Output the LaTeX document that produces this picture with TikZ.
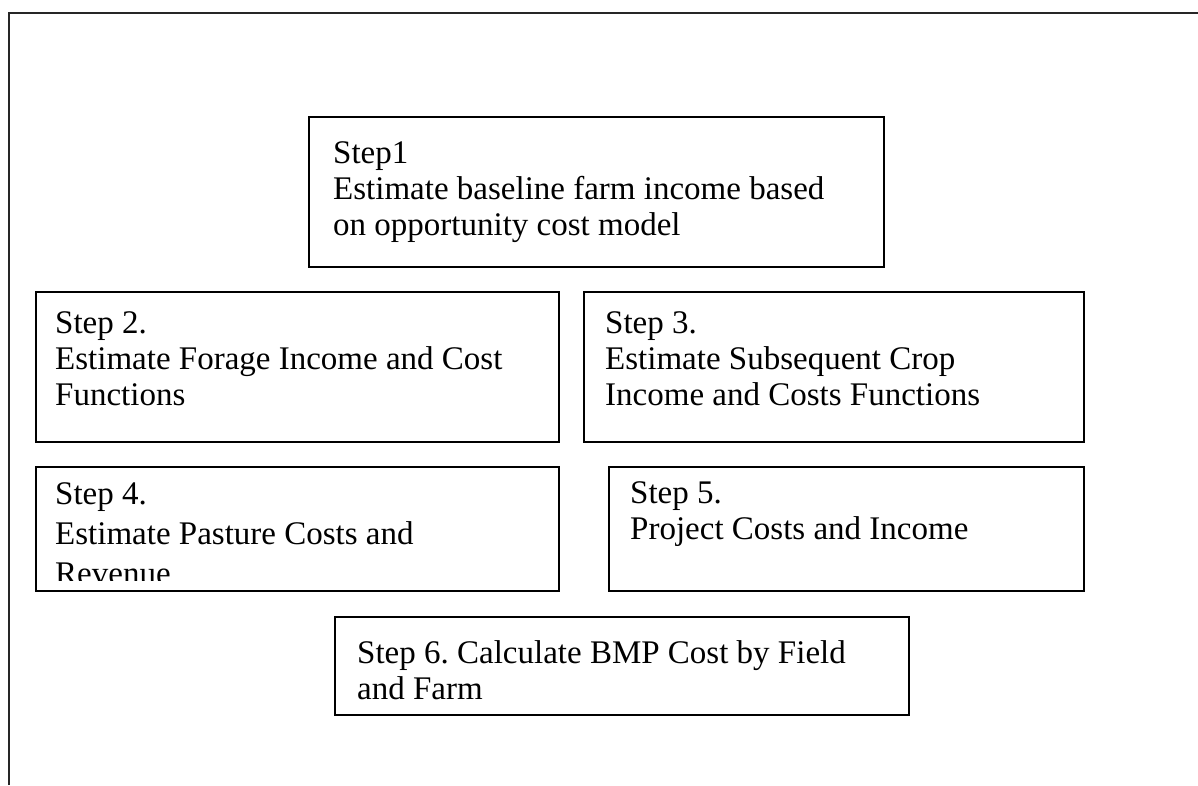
\documentclass[tikz,border=0pt]{standalone}
\usepackage{fontspec}
\setmainfont{Liberation Serif}
\frenchspacing
\tikzset{
  stepbox/.style={draw, line width=2pt, rectangle, inner sep=0pt, anchor=north west},
  steptext/.style={anchor=north west, inner sep=0pt, align=left, font=\fontsize{33}{36}\selectfont}
}
\begin{document}
\begin{tikzpicture}[x=1pt, y=-1pt]
\useasboundingbox (0,0) rectangle (1198,785);
% Frame
\draw[line width=2pt, black!85] (9,785) -- (9,13) -- (1198,13);

% Boxes
\node[stepbox, minimum width=575pt, minimum height=150pt] (box1) at (308,116) {};
\node[stepbox, minimum width=523pt, minimum height=150pt] (box2) at (35,291) {};
\node[stepbox, minimum width=500pt, minimum height=150pt] (box3) at (583,291) {};
\node[stepbox, minimum width=523pt, minimum height=124pt] (box4) at (35,466) {};
\node[stepbox, minimum width=475pt, minimum height=124pt] (box5) at (608,466) {};
\node[stepbox, minimum width=574pt, minimum height=98pt] (box6) at (334,616) {};

% Texts
\node[steptext] (text1) at (333,141) {Step1\\Estimate baseline farm income based\\on opportunity cost model};
\node[steptext] (text2) at (55,311) {Step 2.\\Estimate Forage Income and Cost\\Functions};
\node[steptext] (text3) at (605,311) {Step 3.\\Estimate Subsequent Crop\\Income and Costs Functions};
% Step 4 runs past its box
\begin{scope}
\clip (box4.north west) rectangle ([yshift=12pt]box4.south east);
\node[steptext, font=\fontsize{33}{40}\selectfont] (text4) at (55,482) {Step 4.\\Estimate Pasture Costs and\\Revenue};
\end{scope}
\node[steptext] (text5) at (630,481) {Step 5.\\Project Costs and Income};
\node[steptext] (text6) at (357,640) {Step 6. Calculate BMP Cost by Field\\and Farm};
\end{tikzpicture}
\end{document}
